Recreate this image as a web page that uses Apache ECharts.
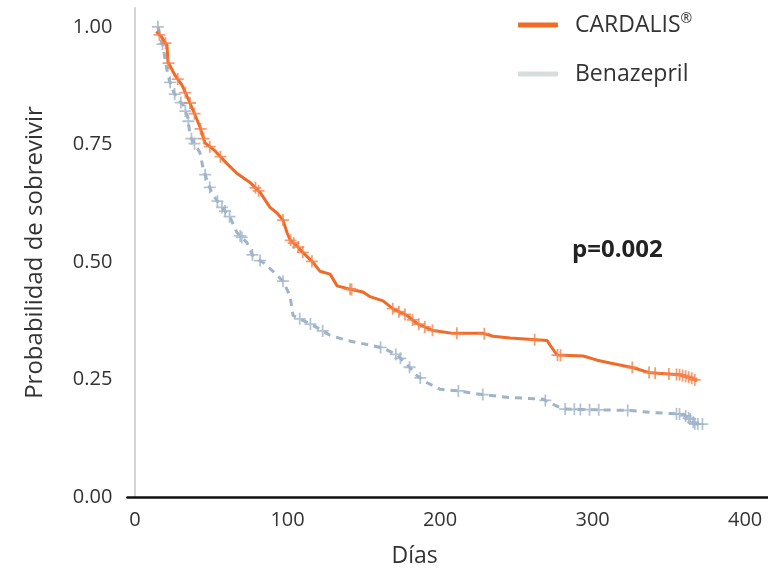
<!DOCTYPE html>
<html><head><meta charset="utf-8">
<script src="https://cdn.jsdelivr.net/npm/echarts@6/dist/echarts.min.js"></script>
<style>html,body{margin:0;padding:0;background:#fff}#c{width:768px;height:573px}</style>
</head><body><div id="c"></div>
<script>
// Kaplan-Meier curve points (day, survival probability)
const cardalisDays = [14, 17.7, 21.0, 21.6, 26.2, 30.8, 34.8, 39.3, 42.6, 45.9, 52.5, 60.3, 66.9, 75.4, 82.0, 88.5, 93.1, 97.0, 99.7, 101.6, 106.9, 108.2, 116.7, 121.3, 127.9, 132.5, 141.0, 149.5, 154.1, 162.6, 169.2, 178.4, 184.9, 195.4, 208.5, 228.2, 234.8, 245.9, 270.2, 272.1, 276.7, 293.8, 303.0, 311.5, 326.6, 337.7, 357.4, 363.9, 368.5];
const cardalisSurv = [0.99, 0.977, 0.960, 0.925, 0.897, 0.876, 0.847, 0.813, 0.787, 0.753, 0.736, 0.709, 0.688, 0.669, 0.648, 0.616, 0.604, 0.589, 0.562, 0.547, 0.532, 0.526, 0.499, 0.480, 0.474, 0.449, 0.442, 0.436, 0.426, 0.417, 0.400, 0.386, 0.369, 0.354, 0.348, 0.348, 0.342, 0.338, 0.333, 0.323, 0.302, 0.300, 0.291, 0.285, 0.275, 0.264, 0.260, 0.254, 0.247];
const cardalisCensor = [16, 20, 22, 28, 33, 36, 39, 43, 45, 49, 56, 79, 81, 97, 102, 104, 107, 110, 116, 141, 142, 169, 173, 177, 182, 186, 190, 195, 211, 229, 262, 277, 279, 326, 337, 341, 350, 355, 357, 359, 361, 363, 365, 367];

const benazeprilDays = [15.1, 16.4, 18.4, 19.7, 21.6, 24.3, 27.5, 31.5, 34.8, 36.1, 42.6, 44.6, 47.2, 50.5, 55.7, 62.3, 66.9, 73.4, 77.4, 83.9, 90.5, 97.0, 101.6, 103.6, 116.7, 127.9, 139.0, 162.6, 171.8, 180.3, 184.9, 191.5, 200.0, 211.1, 227.5, 243.9, 267.5, 274.1, 280.7, 324.6, 337.7, 359.3, 363.9, 367.2, 372.5];
const benazeprilSurv = [1.0, 0.977, 0.960, 0.931, 0.897, 0.868, 0.847, 0.834, 0.805, 0.767, 0.732, 0.700, 0.673, 0.646, 0.621, 0.595, 0.562, 0.541, 0.512, 0.499, 0.480, 0.459, 0.428, 0.386, 0.365, 0.344, 0.333, 0.317, 0.302, 0.275, 0.258, 0.243, 0.229, 0.226, 0.218, 0.212, 0.208, 0.197, 0.187, 0.184, 0.180, 0.176, 0.166, 0.155, 0.155];
const benazeprilCensor = [15, 18, 23, 26, 30, 33, 35, 37, 39, 46, 49, 54, 57, 59, 62, 69, 70, 77, 82, 97, 108, 115, 123, 161, 171, 174, 180, 187, 212, 228, 269, 282, 288, 292, 298, 304, 323, 355, 357, 361, 363, 364, 366, 367, 369, 372];

const xTicks = [0, 100, 200, 300, 400];
const yTicks = [0, 0.25, 0.5, 0.75, 1.0];
const seriesNames = ['CARDALIS', 'Benazepril'];
const pValueText = 'p=0.002';

function pairs(d, s) { return d.map((v, i) => [v, s[i]]); }
function survAt(d, s, day) {
  if (day <= d[0]) return s[0];
  for (let i = 1; i < d.length; i++) {
    if (day <= d[i]) { const t = (day - d[i - 1]) / (d[i] - d[i - 1]); return s[i - 1] + t * (s[i] - s[i - 1]); }
  }
  return s[s.length - 1];
}
function censorPts(d, s, c) { return c.map(day => [day, survAt(d, s, day)]); }

const FONT = 'Open Sans';
const ORANGE = '#f06a28';
const BLUE = '#9fb4c8';
const PLUS = 'path://M4.9,0h1.7v4.9h4.9v1.7h-4.9v4.9h-1.7v-4.9h-4.9v-1.7h4.9z';

const chart = echarts.init(document.getElementById('c'), null, {renderer: 'canvas'});
chart.setOption({
  animation: false,
  backgroundColor: '#fff',
  grid: {left: 127.4, right: 0, top: 8, bottom: 69},
  legend: {
    orient: 'vertical', left: 518, top: 12, padding: 0,
    itemWidth: 40, itemHeight: 5, itemGap: 26, icon: 'roundRect',
    data: [
      {name: seriesNames[0], itemStyle: {color: ORANGE}},
      {name: seriesNames[1], itemStyle: {color: '#d9dcdd'}}
    ],
    formatter: n => n === 'CARDALIS' ? '{a|CARDALIS}{s|®}' : '{a|' + n + '}',
    textStyle: {
      fontFamily: FONT, fontSize: 23, color: '#333', padding: [0, 0, 0, 12],
      rich: {
        a: {fontFamily: FONT, fontSize: 23, color: '#333'},
        s: {fontFamily: FONT, fontSize: 14, color: '#333', verticalAlign: 'top', padding: [0, 0, 12, 0]}
      }
    }
  },
  xAxis: {
    type: 'value', min: -5, max: 415,
    name: 'Días', nameLocation: 'middle', nameGap: 48,
    nameTextStyle: {fontFamily: FONT, fontSize: 23, color: '#333', padding: [0, 66, 0, 0]},
    axisLine: {show: true, onZero: false, lineStyle: {color: '#111', width: 2.5}},
    axisTick: {show: false},
    splitLine: {show: false},
    axisLabel: {customValues: xTicks, fontFamily: FONT, fontSize: 20, color: '#333', margin: 13}
  },
  yAxis: {
    type: 'value', min: 0, max: 1.04,
    name: 'Probabilidad de sobrevivir', nameLocation: 'middle', nameGap: 80,
    nameTextStyle: {fontFamily: FONT, fontSize: 24, color: '#333'},
    axisLine: {show: true, onZero: true, lineStyle: {color: '#d4d4d4', width: 2}},
    axisTick: {show: false},
    splitLine: {show: false},
    axisLabel: {customValues: yTicks, formatter: v => v.toFixed(2), fontFamily: FONT, fontSize: 20, color: '#333', margin: 15}
  },
  graphic: [{
    type: 'text', left: 572, top: 238,
    style: {text: pValueText, fontFamily: FONT, fontSize: 24, fontWeight: 'bold', fill: '#222'}
  }],
  series: [
    {
      name: seriesNames[1], type: 'line', showSymbol: false, z: 2,
      data: pairs(benazeprilDays, benazeprilSurv),
      lineStyle: {color: BLUE, width: 3, type: [7, 6]}, itemStyle: {color: BLUE}
    },
    {
      name: 'Benazepril censor', type: 'scatter', symbol: PLUS, symbolSize: 12, z: 3,
      data: censorPts(benazeprilDays, benazeprilSurv, benazeprilCensor),
      itemStyle: {color: BLUE}
    },
    {
      name: seriesNames[0], type: 'line', showSymbol: false, z: 4,
      data: pairs(cardalisDays, cardalisSurv),
      lineStyle: {color: ORANGE, width: 3}, itemStyle: {color: ORANGE}
    },
    {
      name: 'CARDALIS censor', type: 'scatter', symbol: PLUS, symbolSize: 12, z: 5,
      data: censorPts(cardalisDays, cardalisSurv, cardalisCensor),
      itemStyle: {color: '#f3844f'}
    }
  ]
});
</script></body></html>
